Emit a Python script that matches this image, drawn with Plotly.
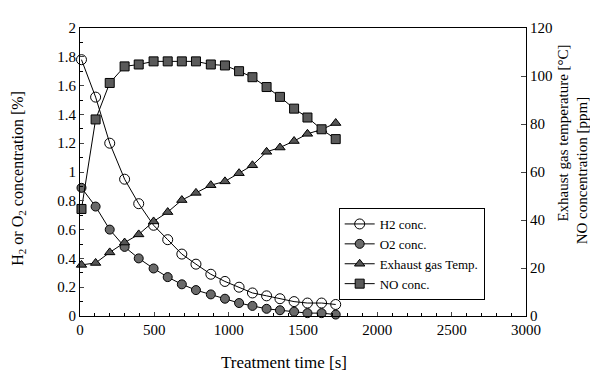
import plotly.graph_objects as go

time_s = [10, 105, 200, 300, 395, 495, 590, 685, 780, 880, 975, 1070, 1160, 1255, 1345, 1440, 1530, 1625, 1720]
h2_conc = [1.78, 1.52, 1.20, 0.95, 0.78, 0.63, 0.53, 0.43, 0.36, 0.29, 0.24, 0.20, 0.16, 0.14, 0.12, 0.10, 0.09, 0.09, 0.08]
o2_conc = [0.89, 0.76, 0.60, 0.48, 0.40, 0.33, 0.27, 0.22, 0.18, 0.15, 0.12, 0.09, 0.07, 0.05, 0.04, 0.03, 0.02, 0.02, 0.01]
exhaust_temp = [21.3, 22.1, 26.5, 30.6, 34.0, 39.4, 43.3, 48.3, 51.3, 54.5, 56.1, 59.5, 62.8, 68.4, 70.2, 72.9, 75.9, 77.7, 80.4]
no_conc = [44.6, 81.9, 97.1, 104.0, 104.8, 106.1, 106.1, 106.1, 106.1, 104.8, 104.4, 102.0, 99.5, 95.4, 91.3, 86.4, 82.7, 77.8, 73.7]

FONT = "Liberation Serif"
line = dict(color="black", width=1)

fig = go.Figure()
fig.add_trace(go.Scatter(x=time_s, y=h2_conc, name="H2 conc.", mode="lines+markers",
                         line=line, cliponaxis=False,
                         marker=dict(symbol="circle-open", size=10, color="black", line=dict(width=1))))
fig.add_trace(go.Scatter(x=time_s, y=o2_conc, name="O2 conc.", mode="lines+markers",
                         line=line, cliponaxis=False,
                         marker=dict(symbol="circle", size=9, color="#6a6a6a", line=dict(color="black", width=1))))
fig.add_trace(go.Scatter(x=time_s, y=exhaust_temp, name="Exhaust gas Temp.", mode="lines+markers",
                         line=line, yaxis="y2", cliponaxis=False,
                         marker=dict(symbol="triangle-up", size=9, color="#555555", line=dict(color="black", width=1))))
fig.add_trace(go.Scatter(x=time_s, y=no_conc, name="NO conc.", mode="lines+markers",
                         line=line, yaxis="y2", cliponaxis=False,
                         marker=dict(symbol="square", size=9, color="#5a5a5a", line=dict(color="black", width=1))))

fig.update_layout(
    width=598, height=383,
    margin=dict(l=72, r=80, t=15, b=75),
    paper_bgcolor="white", plot_bgcolor="white",
    font=dict(family=FONT, size=15, color="black"),
    showlegend=True,
    legend=dict(x=0.58, y=0.375, xanchor="left", yanchor="top",
                bgcolor="white", bordercolor="black", borderwidth=1,
                font=dict(family=FONT, size=13), tracegroupgap=0,
                itemwidth=30),
    xaxis=dict(range=[0, 3000], dtick=500, tick0=0, ticks="inside", ticklen=4,
               showline=True, linecolor="black", linewidth=1, mirror=True,
               showgrid=False, zeroline=False,
               minor=dict(ticks="inside", dtick=100, ticklen=3, tickcolor="black")),
    yaxis=dict(range=[0, 2], dtick=0.2, ticks="inside", ticklen=4,
               showline=True, linecolor="black", linewidth=1, mirror=False,
               showgrid=False, zeroline=False,
               minor=dict(ticks="inside", dtick=0.1, ticklen=3, tickcolor="black")),
    yaxis2=dict(range=[0, 120], dtick=20, ticks="inside", ticklen=5,
                overlaying="y", side="right",
                showline=True, linecolor="black", linewidth=1,
                showgrid=False, zeroline=False),
    annotations=[
        dict(text="Treatment time [s]", xref="paper", yref="paper", x=0.457, y=-0.12,
             xanchor="center", yanchor="top", showarrow=False, font=dict(family=FONT, size=17)),
        dict(text="H<sub>2</sub> or O<sub>2</sub> concentration [%]", xref="paper", yref="paper",
             x=-0.138, y=0.478, xanchor="center", yanchor="middle", textangle=-90, showarrow=False,
             font=dict(family=FONT, size=16)),
        dict(text="Exhaust gas temperature [°C]", xref="paper", yref="paper",
             x=1.084, y=0.635, xanchor="center", yanchor="middle", textangle=-90, showarrow=False,
             font=dict(family=FONT, size=15)),
        dict(text="NO concentration [ppm]", xref="paper", yref="paper",
             x=1.125, y=0.505, xanchor="center", yanchor="middle", textangle=-90, showarrow=False,
             font=dict(family=FONT, size=15)),
    ],
)

fig.write_html("out.html")
